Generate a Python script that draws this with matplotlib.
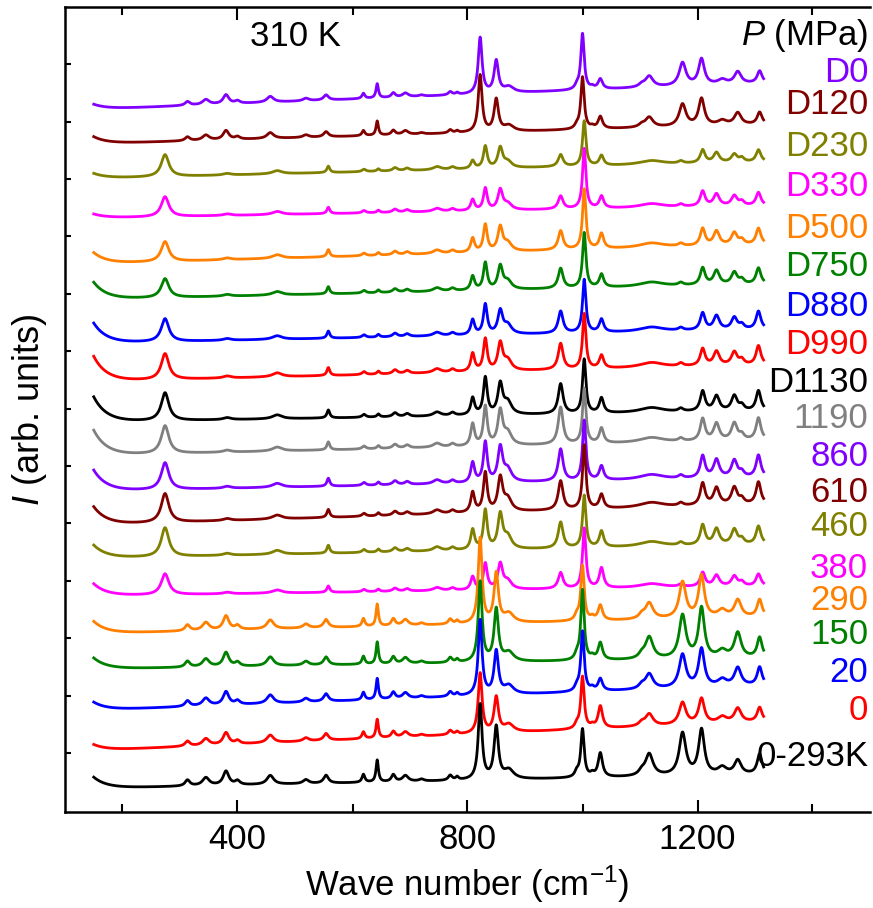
import numpy as np
import matplotlib
matplotlib.use("Agg")
import matplotlib.pyplot as plt

plt.rcParams['font.family'] = ['Liberation Sans', 'DejaVu Sans']
plt.rcParams['mathtext.fontset'] = 'custom'
plt.rcParams['mathtext.rm'] = 'Liberation Sans'
plt.rcParams['mathtext.it'] = 'Liberation Sans:italic'

# ---------------- data ----------------
names = ['D0', 'D120', 'D230', 'D330', 'D500', 'D750', 'D880', 'D990', 'D1130',
         '1190', '860', '610', '460', '380', '290', '150', '20', '0', '0-293K']
kinds = ['A', 'A', 'B', 'B', 'B', 'B', 'B', 'B', 'B',
         'B', 'B', 'B', 'B', 'B', 'A', 'A', 'A', 'A', 'A']
colors = ['#8000FF', '#800000', '#808000', '#FF00FF', '#FF8000', '#008000', '#0000FF',
          '#FF0000', '#000000', '#808080', '#8000FF', '#800000', '#808000', '#FF00FF',
          '#FF8000', '#008000', '#0000FF', '#FF0000', '#000000']
# vertical offset of each spectrum (baseline near 250 cm-1, arb. units)
offsets = [705, 670, 635, 595, 550, 514, 470, 432, 391, 358, 322, 289, 255, 217,
           180, 144, 104, 64, 25]
# baseline rise between 250 and 1100 cm-1
rises = [19, 14, 12, 9, 14, 11, 10, 12, 8, 11, 10, 15, 10, 7, 12, 8, 18, 21, 10]
# Rayleigh wing at the low-wavenumber start
wings = [5, 7, 5, 4, 11, 17, 20, 25, 25, 25, 21, 18, 13, 12, 12, 11, 8, 6, 11]

wn_start, wn_end = 150, 1315

# Phase A bands (low intensity group, reference heights)
A_low_c = [313, 345, 380, 400, 457, 519, 554, 619, 643, 671, 692, 720, 770, 782, 872, 990, 1017, 1103, 1243]
A_low_w = [5, 7, 6, 5, 7, 6, 5, 3, 2.5, 4, 6, 5, 4, 3, 10, 4, 4, 6, 9]
A_low_h = [6, 8, 14, 4, 9, 4, 8, 8, 22, 7, 6, 2, 5, 3, 9, 5, 3, 4, 7]
A_main_c = [822, 850, 1000, 1031, 1116, 1174, 1207, 1270, 1308]
A_main_w = [4, 4.5, 3.5, 4.5, 8, 7, 6, 7, 5]
A_main_h = {
    'D0':     [56, 32, 56, 10, 11, 23, 26, 12, 12],
    'D120':   [57, 32, 52, 12, 10, 22, 27, 12, 12],
    '290':    [85, 49, 55, 15, 16, 36, 42, 17, 17],
    '150':    [80, 52, 70, 17, 22, 43, 50, 25, 20],
    '20':     [75, 43, 60, 12, 15, 33, 38, 18, 18],
    '0':      [60, 35, 52, 22, 12, 22, 25, 14, 14],
    '0-293K': [75, 52, 48, 24, 22, 42, 45, 14, 20],
}
A_low_scale = {'D0': 0.65, 'D120': 0.65, '290': 1.0, '150': 1.0, '20': 0.95, '0': 0.85, '0-293K': 1.0}

# Phase B bands
B_low_c = [382, 469, 558, 620, 645, 674, 695, 747, 774, 1120, 1171, 1277]
B_low_w = [8, 10, 3, 4, 3, 5, 5, 8, 5, 25, 5, 5]
B_low_h = [2, 4, 8, 3, 3, 4, 3, 4, 3, 5, 3, 5]
B_main_c = [274, 809, 831, 857, 870, 962, 1003, 1033, 1209, 1233, 1264, 1306]
B_main_w = [8, 4, 4, 5, 8, 5, 3.5, 4.5, 5, 6, 6, 5]
B_main_h = {
    'D230':  [22, 8, 22, 20, 6, 12, 45, 10, 13, 10, 8, 12],
    'D330':  [20, 11, 22, 20, 6, 13, 60, 12, 15, 12, 10, 13],
    'D500':  [20, 14, 27, 24, 8, 19, 60, 15, 17, 14, 12, 16],
    'D750':  [19, 14, 27, 23, 8, 20, 55, 13, 17, 14, 12, 16],
    'D880':  [23, 15, 30, 23, 9, 22, 53, 13, 17, 14, 12, 18],
    'D990':  [26, 18, 32, 27, 10, 26, 55, 13, 17, 14, 13, 19],
    'D1130': [28, 17, 37, 30, 12, 30, 54, 15, 20, 15, 15, 20],
    '1190':  [28, 22, 39, 34, 12, 37, 55, 15, 22, 17, 17, 22],
    '860':   [27, 20, 40, 34, 12, 32, 60, 14, 22, 18, 17, 22],
    '610':   [29, 20, 39, 33, 12, 29, 64, 14, 22, 17, 17, 22],
    '460':   [29, 20, 39, 34, 12, 26, 52, 16, 20, 16, 15, 18],
    '380':   [21, 13, 26, 25, 8, 16, 60, 20, 14, 11, 10, 12],
}
B_low_scale = {'D230': 0.8, 'D330': 0.8, 'D500': 0.9, 'D750': 0.9, 'D880': 0.9, 'D990': 1.0,
               'D1130': 1.0, '1190': 1.0, '860': 1.0, '610': 1.0, '460': 1.0, '380': 0.8}

# label layout (y in data units)
label_y = [739, 707, 666, 625, 584, 546, 506, 468, 430, 393, 355, 319, 285, 244,
           211, 177, 139, 101, 55]


def lorentz(x, c, h, w):
    return h / (1.0 + ((x - c) / w) ** 2)


x = np.arange(wn_start, wn_end + 0.5, 0.5)

fig = plt.figure(figsize=(8.73, 9.08), dpi=100)
ax = fig.add_axes([65 / 873, 96 / 908, 805 / 873, 805 / 908])

for i, name in enumerate(names):
    y = offsets[i] + rises[i] * (x - 250) / 850.0 + wings[i] * np.exp(-(x - wn_start) / 22.0)
    if kinds[i] == 'A':
        s = A_low_scale[name]
        for c, w, h in zip(A_low_c, A_low_w, A_low_h):
            y = y + lorentz(x, c, h * s, w)
        for c, w, h in zip(A_main_c, A_main_w, A_main_h[name]):
            y = y + lorentz(x, c, h, w)
    else:
        s = B_low_scale[name]
        for c, w, h in zip(B_low_c, B_low_w, B_low_h):
            y = y + lorentz(x, c, h * s, w)
        for c, w, h in zip(B_main_c, B_main_w, B_main_h[name]):
            y = y + lorentz(x, c, h, w)
    ax.plot(x, y, color=colors[i], lw=2.0, zorder=2 + i, solid_joinstyle='round')
    ax.text(1497, label_y[i], name, color=colors[i], fontsize=25, ha='right', va='center', zorder=40)

ax.text(1497, 777, r'$\it{P}$ (MPa)', color='black', fontsize=25, ha='right', va='center')
ax.text(500, 775, '310 K', color='black', fontsize=25, ha='center', va='center')

ax.set_xlim(100, 1500)
ax.set_ylim(0, 805)
ax.set_xticks([400, 800, 1200])
ax.set_xticks([200, 600, 1000, 1400], minor=True)
ax.set_yticks([59 + 57.4 * k for k in range(13)])
ax.set_yticklabels([])
ax.tick_params(axis='x', which='major', direction='in', length=9, width=1.5, top=True,
               labelsize=25, pad=8)
ax.tick_params(axis='x', which='minor', direction='in', length=6, width=1.5, top=True)
ax.tick_params(axis='y', which='major', direction='in', length=4, width=1.5, right=False)
ax.spines['right'].set_visible(False)
for sp in ['left', 'top', 'bottom']:
    ax.spines[sp].set_linewidth(1.8)

ax.set_xlabel(r'Wave number (cm$^{-1}$)', fontsize=25, labelpad=5)
ax.set_ylabel(r'$\it{I}$ (arb. units)', fontsize=26, labelpad=8)

fig.savefig('out.png', dpi=100)
